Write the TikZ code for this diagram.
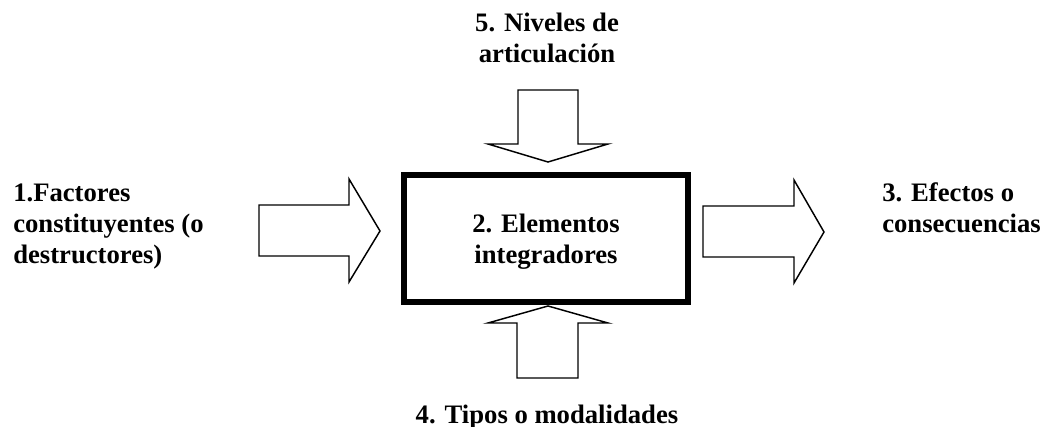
\documentclass[tikz,border=0pt]{standalone}
\usepackage{fontspec}
\setmainfont{Liberation Serif}
\begin{document}
\begin{tikzpicture}[x=0.75pt,y=-0.75pt,
  lbl/.style={font=\fontsize{20}{23.25}\selectfont\bfseries, inner sep=0pt},
  bigarrow/.style={draw=black, line width=1.1pt, line join=miter, fill=white}]
\useasboundingbox (0,0) rectangle (1044,427);
% central box
\draw[line width=3.9pt] (404,175) rectangle (688,302);
\node[lbl, align=center, anchor=base] (elem) at (546,263) {2. Elementos\\integradores};
% arrows
\draw[bigarrow] (259,205) -- (349,205) -- (349,179) -- (380,231) -- (349,282) -- (349,256) -- (259,256) -- cycle;
\draw[bigarrow] (703,206) -- (794,206) -- (794,180) -- (824,232) -- (794,283) -- (794,257) -- (703,257) -- cycle;
\draw[bigarrow] (518,90) -- (578,90) -- (578,144) -- (608,144) -- (548,162) -- (488,144) -- (518,144) -- cycle;
\draw[bigarrow] (517,378) -- (578,378) -- (578,323) -- (608,323) -- (548,306) -- (488,323) -- (517,323) -- cycle;
% labels
\node[lbl, align=left, anchor=base west] (fact) at (13,263) {1.Factores\\constituyentes (o\\destructores)};
\node[lbl, align=left, anchor=base west] (efec) at (882,233) {3. Efectos o\\consecuencias};
\node[lbl, align=center, anchor=base] (niv) at (547,63) {5. Niveles de\\articulación};
\node[lbl, anchor=base] (tipos) at (547,423) {4. Tipos o modalidades};
\end{tikzpicture}
\end{document}
